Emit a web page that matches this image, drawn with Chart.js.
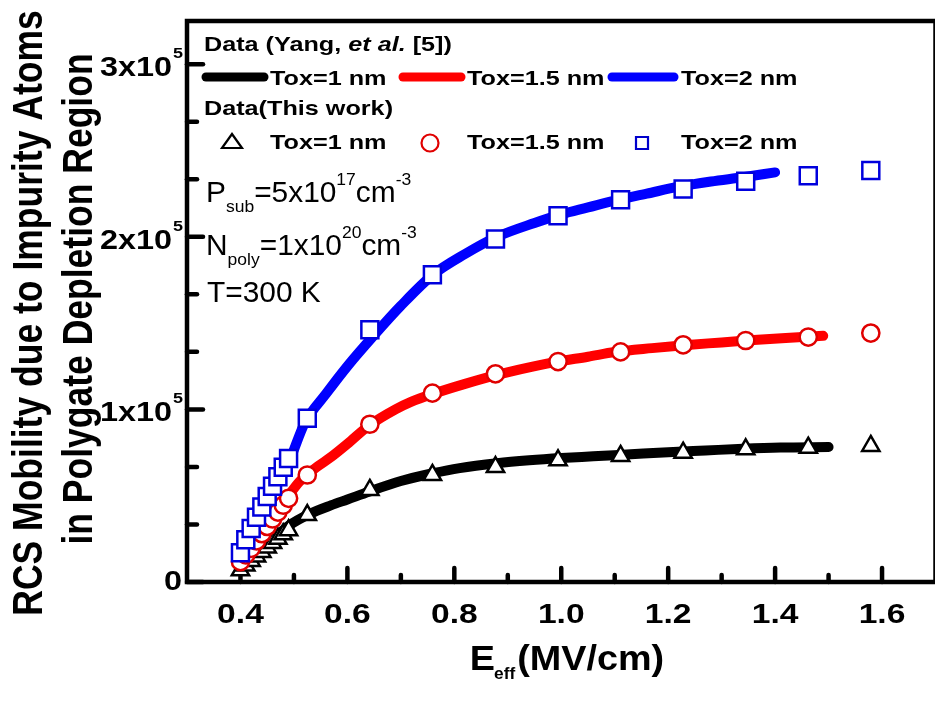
<!DOCTYPE html>
<html>
<head>
<meta charset="utf-8">
<script src="https://cdn.jsdelivr.net/npm/chart.js@4.4.1/dist/chart.umd.min.js"></script>
<style>
  html, body { margin: 0; padding: 0; overflow: hidden; background: #fff; }
  #wrap { width: 950px; height: 702px; }
</style>
</head>
<body>
<div id="wrap"><canvas id="c" width="950" height="702"></canvas></div>
<script>
// Effective field (MV/cm) of the simulated points (this work)
const eThisWork = [0.40, 0.41, 0.42, 0.43, 0.44, 0.45, 0.46, 0.47, 0.48, 0.49,
                   0.525, 0.642, 0.759, 0.877, 0.994, 1.111, 1.228, 1.345, 1.462, 1.579];
// RCS mobility (cm^2/V-s), this work
const muTox1 = [6800, 9500, 12200, 14800, 17400, 20000, 22600, 25100, 27600, 30000,
                38800, 53300, 62000, 66600, 70500, 73000, 74900, 76900, 77800, 78800];
const muTox15 = [11800, 15700, 19500, 23800, 28000, 32200, 36500, 40500, 44500, 48500,
                 62000, 91400, 109400, 120600, 127700, 133300, 137400, 139900, 141900, 144200];
const muTox2 = [17000, 24500, 31000, 37500, 43500, 49500, 55500, 61000, 66500, 71500,
                94900, 146100, 178000, 198700, 212200, 221400, 227700, 232100, 235400, 238400];

// Data of Yang et al. [5]
const eYangTox1 = [0.40, 0.43, 0.46, 0.49, 0.53, 0.57, 0.60, 0.64, 0.70, 0.76, 0.81,
                   0.88, 0.94, 1.00, 1.06, 1.13, 1.20, 1.27, 1.34, 1.41, 1.50];
const muYangTox1 = [8000, 16500, 24500, 32500, 39500, 44500, 47800, 52300, 58500, 63000, 66000,
                    68800, 70500, 71800, 72800, 74000, 75200, 76200, 77200, 77900, 78200];
const eYangTox15 = [0.40, 0.43, 0.46, 0.49, 0.51, 0.54, 0.57, 0.60, 0.64, 0.69, 0.72, 0.76, 0.82,
                    0.88, 0.94, 0.99, 1.05, 1.10, 1.17, 1.23, 1.30, 1.36, 1.42, 1.49];
const muYangTox15 = [10500, 24000, 37500, 50000, 58000, 66000, 72500, 80000, 90500, 100000, 104500, 109000, 114800,
                     120000, 124300, 127500, 130500, 133200, 135500, 137200, 138800, 140200, 141400, 142600];
const eYangTox2 = [0.40, 0.44, 0.47, 0.49, 0.52, 0.56, 0.60, 0.65, 0.70, 0.76, 0.82,
                   0.88, 0.95, 1.00, 1.05, 1.10, 1.16, 1.22, 1.28, 1.34, 1.40];
const muYangTox2 = [15000, 40000, 58000, 69000, 92000, 109000, 125000, 143000, 160000, 178000, 190000,
                    200000, 208000, 213000, 217000, 221000, 225000, 229000, 232000, 234500, 237300];

// Axis ticks
const xMajorTicks = [0.4, 0.6, 0.8, 1.0, 1.2, 1.4, 1.6];
const xTickLabels = ['0.4', '0.6', '0.8', '1.0', '1.2', '1.4', '1.6'];
const xMinorTicks = [0.5, 0.7, 0.9, 1.1, 1.3, 1.5];
const yMajorTicks = [0, 100000, 200000, 300000];
const yTickMantissa = ['0', '1x10', '2x10', '3x10'];
const yTickExponent = ['', '5', '5', '5'];
const yMinorTicks = [33333, 66667, 133333, 166667, 233333, 266667];

const FONT = '"Liberation Sans", Arial, sans-serif';
const SX = 1.2; // horizontal stretch of the bold lettering

const pts = (xs, ys) => xs.map((v, i) => ({ x: v, y: ys[i] }));

// Draw a run of text pieces, each with its own font and vertical offset
function drawRuns(ctx, runs, x, y, sx) {
  let cx = x;
  runs.forEach(r => {
    ctx.save();
    ctx.font = r.font;
    ctx.translate(cx, y + (r.dy || 0));
    ctx.scale(sx, 1);
    ctx.textAlign = 'left';
    ctx.textBaseline = 'alphabetic';
    ctx.fillText(r.t, 0, 0);
    const w = ctx.measureText(r.t).width * sx;
    ctx.restore();
    cx += w + (r.gap || 0);
  });
  return cx;
}
function runsWidth(ctx, runs, sx) {
  let w = 0;
  runs.forEach(r => { ctx.save(); ctx.font = r.font; w += ctx.measureText(r.t).width * sx + (r.gap || 0); ctx.restore(); });
  return w;
}
function textAt(ctx, t, x, y, font, sx, align) {
  ctx.save();
  ctx.font = font;
  ctx.translate(x, y);
  ctx.scale(sx, 1);
  ctx.textAlign = align || 'left';
  ctx.textBaseline = 'alphabetic';
  ctx.fillText(t, 0, 0);
  ctx.restore();
}

// Frame, inward ticks, labels and in-plot legend
const axesPlugin = {
  id: 'axesFrame',
  beforeDatasetsDraw(chart) {
    const { ctx, chartArea: a, scales: { x, y } } = chart;
    ctx.save();
    ctx.strokeStyle = '#000';
    ctx.lineWidth = 4.5;
    ctx.lineJoin = 'miter';
    ctx.strokeRect(a.left, a.top, a.right - a.left, a.bottom - a.top);
    ctx.lineCap = 'round';
    const seg = (x1, y1, x2, y2) => { ctx.beginPath(); ctx.moveTo(x1, y1); ctx.lineTo(x2, y2); ctx.stroke(); };
    xMajorTicks.forEach(v => { const p = x.getPixelForValue(v); seg(p, a.bottom, p, a.bottom - 14); });
    xMinorTicks.forEach(v => { const p = x.getPixelForValue(v); seg(p, a.bottom, p, a.bottom - 7); });
    yMajorTicks.forEach(v => { const p = y.getPixelForValue(v); seg(a.left, p, a.left + 16, p); });
    yMinorTicks.forEach(v => { const p = y.getPixelForValue(v); seg(a.left, p, a.left + 10, p); });
    ctx.restore();
  },
  afterDraw(chart) {
    const { ctx, chartArea: a, scales: { x, y } } = chart;
    ctx.save();
    ctx.fillStyle = '#000';

    // x tick labels
    const xf = 'bold 28px ' + FONT;
    xMajorTicks.forEach((v, i) => textAt(ctx, xTickLabels[i], x.getPixelForValue(v), 623, xf, SX, 'center'));

    // y tick labels with power-of-ten exponent
    const yf = 'bold 27px ' + FONT;
    const ef = 'bold 15px ' + FONT;
    yMajorTicks.forEach((v, i) => {
      const p = y.getPixelForValue(v);
      if (yTickExponent[i]) {
        textAt(ctx, yTickMantissa[i], a.left - 15, p + 12, yf, SX, 'right');
        textAt(ctx, yTickExponent[i], a.left - 14, p - 6, ef, SX, 'left');
      } else {
        textAt(ctx, yTickMantissa[i], a.left - 5, p + 8, yf, SX, 'right');
      }
    });

    // x axis title
    const xt = [
      { t: 'E', font: 'bold 35px ' + FONT, gap: -1 },
      { t: 'eff', font: 'bold 16px ' + FONT, dy: 9, gap: 2 },
      { t: '(MV/cm)', font: 'bold 35px ' + FONT }
    ];
    const xw = runsWidth(ctx, xt, 1.08);
    drawRuns(ctx, xt, 567 - xw / 2, 670, 1.08);

    // y axis title, two lines
    const yTitle = [
      { t: 'RCS Mobility due to Impurity Atoms', cx: 30, cy: 313 },
      { t: 'in Polygate Depletion Region', cx: 80, cy: 299 }
    ];
    yTitle.forEach(l => {
      ctx.save();
      ctx.font = 'bold 35.5px ' + FONT;
      ctx.translate(l.cx, l.cy);
      ctx.scale(SX, 1);
      ctx.rotate(-Math.PI / 2);
      ctx.textAlign = 'center';
      ctx.textBaseline = 'middle';
      ctx.fillText(l.t, 0, 0);
      ctx.restore();
    });
    ctx.restore();
  },
  afterDatasetsDraw(chart) {
    const { ctx } = chart;
    ctx.save();
    ctx.fillStyle = '#000';
    const lf = 'bold 21px ' + FONT;
    const lfi = 'italic bold 21px ' + FONT;

    // legend: Yang et al. curves
    drawRuns(ctx, [{ t: 'Data (Yang, ', font: lf }, { t: 'et al.', font: lfi }, { t: ' [5])', font: lf }], 204, 51, SX);
    const sample = (x1, x2, yy, col) => {
      ctx.save(); ctx.strokeStyle = col; ctx.lineWidth = 9; ctx.lineCap = 'round';
      ctx.beginPath(); ctx.moveTo(x1, yy); ctx.lineTo(x2, yy); ctx.stroke(); ctx.restore();
    };
    sample(206, 264, 77, '#000000');
    sample(403, 461, 77, '#ff0000');
    sample(612, 674, 77, '#0000ff');
    textAt(ctx, 'Tox=1 nm', 270, 85, lf, SX);
    textAt(ctx, 'Tox=1.5 nm', 467, 85, lf, SX);
    textAt(ctx, 'Tox=2 nm', 681, 85, lf, SX);

    // legend: this work symbols
    textAt(ctx, 'Data(This work)', 204, 115, lf, SX);
    ctx.lineWidth = 2.2;
    ctx.fillStyle = '#fff';
    ctx.strokeStyle = '#000';
    ctx.beginPath(); ctx.moveTo(232, 134); ctx.lineTo(242, 148); ctx.lineTo(222, 148); ctx.closePath(); ctx.fill(); ctx.stroke();
    ctx.strokeStyle = '#e00000';
    ctx.beginPath(); ctx.arc(430, 143, 8.5, 0, Math.PI * 2); ctx.fill(); ctx.stroke();
    ctx.strokeStyle = '#0000cc';
    ctx.beginPath(); ctx.rect(636, 137, 12, 12); ctx.fill(); ctx.stroke();
    ctx.fillStyle = '#000';
    textAt(ctx, 'Tox=1 nm', 270, 149, lf, SX);
    textAt(ctx, 'Tox=1.5 nm', 467, 149, lf, SX);
    textAt(ctx, 'Tox=2 nm', 681, 149, lf, SX);

    // conditions
    const nf = '29px ' + FONT;
    const sf = '17px ' + FONT;
    const AS = 1.03;
    drawRuns(ctx, [
      { t: 'P', font: nf }, { t: 'sub', font: sf, dy: 10 }, { t: '=5x10', font: nf },
      { t: '17', font: sf, dy: -17 }, { t: 'cm', font: nf }, { t: '-3', font: sf, dy: -17 }
    ], 206, 202, AS);
    drawRuns(ctx, [
      { t: 'N', font: nf }, { t: 'poly', font: sf, dy: 10 }, { t: '=1x10', font: nf },
      { t: '20', font: sf, dy: -17 }, { t: 'cm', font: nf }, { t: '-3', font: sf, dy: -17 }
    ], 206, 255, AS);
    textAt(ctx, 'T=300 K', 207, 302, nf, AS);
    ctx.restore();
  }
};

const curve = (label, xs, ys, color, order) => ({
  label, data: pts(xs, ys), showLine: true, pointRadius: 0,
  borderColor: color, borderWidth: 10, borderCapStyle: 'round', borderJoinStyle: 'round',
  cubicInterpolationMode: 'monotone', order
});
const marks = (label, ys, style, radius, color, order) => ({
  label, data: pts(eThisWork, ys), showLine: false, pointStyle: style, pointRadius: radius,
  pointBorderWidth: 2.5, pointBorderColor: color, pointBackgroundColor: '#ffffff', order
});

new Chart(document.getElementById('c'), {
  type: 'scatter',
  data: {
    datasets: [
      marks('Tox=2 nm (this work)', muTox2, 'rect', 12, '#0000dd', 0),
      marks('Tox=1.5 nm (this work)', muTox15, 'circle', 8.6, '#e00000', 1),
      marks('Tox=1 nm (this work)', muTox1, 'triangle', 10, '#000000', 2),
      curve('Tox=2 nm (Yang)', eYangTox2, muYangTox2, '#0000ff', 3),
      curve('Tox=1.5 nm (Yang)', eYangTox15, muYangTox15, '#ff0000', 4),
      curve('Tox=1 nm (Yang)', eYangTox1, muYangTox1, '#000000', 5)
    ]
  },
  options: {
    responsive: false,
    devicePixelRatio: 1,
    animation: false,
    events: [],
    layout: { padding: { left: 187, right: 7, top: 21, bottom: 120 } },
    plugins: { legend: { display: false }, tooltip: { enabled: false } },
    scales: {
      x: { type: 'linear', display: false, min: 0.3, max: 1.7 },
      y: { type: 'linear', display: false, min: 0, max: 325000 }
    }
  },
  plugins: [axesPlugin]
});
</script>
</body>
</html>
